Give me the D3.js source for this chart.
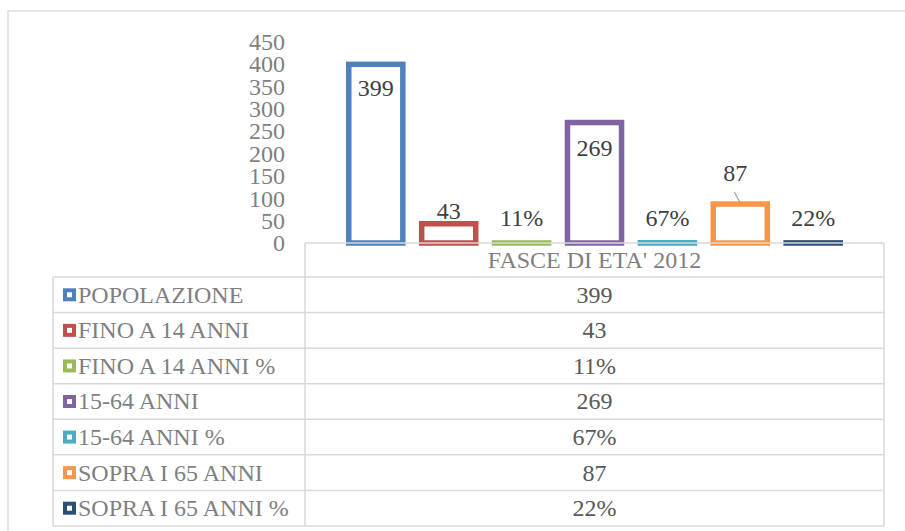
<!DOCTYPE html>
<html><head><meta charset="utf-8">
<script src="https://cdn.jsdelivr.net/npm/d3@7"></script>
<style>body{margin:0;background:#fff} svg{display:block} svg text{font-family:"Liberation Serif","Times New Roman",serif;}</style>
</head><body><svg id="c" width="905" height="531"></svg>
<script>
// ---- data ----
const categories = ["FASCE DI ETA' 2012"];
const seriesNames = ["POPOLAZIONE","FINO A 14 ANNI","FINO A 14 ANNI %","15-64 ANNI","15-64 ANNI %","SOPRA I 65 ANNI","SOPRA I 65 ANNI %"];
const seriesValues = [399, 43, 0.11, 269, 0.67, 87, 0.22];
const valueLabels = ["399","43","11%","269","67%","87","22%"];
const yTicks = [0,50,100,150,200,250,300,350,400,450];
const colors = ["#4f81bd","#c0504d","#9bbb59","#8064a2","#4bacc6","#f79646","#2c4d75"];

// ---- layout ----
const labelOffsets = [24, -13, -25, 26, -25, -31, -25];
const labelDx = [0, 0, 0, 0, 0, -5, 0];
const leader = [false,false,false,false,false,true,false];
const FS = 24;
const plotL = 305, plotR = 884, zeroY = 243, topY = 41.5;
const tableL = 53, rowTop = 277, tableBottom = 526;
const rowH = (tableBottom - rowTop) / seriesNames.length;
const lineCol = "#d9d9d9";
const sw = 5.5;

const svg = d3.select("#c");
svg.append("rect").attr("x",8).attr("y",11).attr("width",920).attr("height",540)
  .attr("fill","none").attr("stroke",lineCol).attr("stroke-width",1.3);

const y = d3.scaleLinear().domain([0,450]).range([zeroY, topY]);
const x0 = d3.scaleBand().domain(categories).range([plotL, plotR]);
const x = d3.scaleBand().domain(seriesNames)
  .range([346 - 6.65, 843 + 6.65]).paddingInner(0.183).paddingOuter(0.0915);

// y axis
const yAxis = d3.axisLeft(y).tickValues(yTicks).tickSize(0).tickPadding(0);
const ga = svg.append("g").attr("transform","translate(285,0)").call(yAxis);
ga.select(".domain").remove();
ga.attr("font-family",null).attr("font-size",null);
ga.selectAll("text").attr("font-size",FS).attr("fill","#7f7f7f").attr("dy","0.33em");

// bars
const data = seriesNames.map((s,i)=>({s, v:seriesValues[i], lab:valueLabels[i], c:colors[i], i}));
svg.append("g").selectAll("rect").data(data).join("rect")
  .attr("x", d=>x(d.s)+sw/2).attr("width", x.bandwidth()-sw)
  .attr("y", d=>y(d.v)).attr("height", d=>zeroY - y(d.v))
  .attr("fill","#fff").attr("stroke", d=>d.c).attr("stroke-width", sw);

// data labels
svg.append("g").selectAll("text").data(data).join("text")
  .attr("x", d=>x(d.s)+x.bandwidth()/2+labelDx[d.i])
  .attr("y", d=>y(d.v)+labelOffsets[d.i])
  .attr("dy","0.33em").attr("text-anchor","middle")
  .attr("font-size",FS).attr("fill","#404040")
  .text(d=>d.lab);
svg.append("g").selectAll("line").data(data.filter(d=>leader[d.i])).join("line")
  .attr("x1", d=>x(d.s)+x.bandwidth()/2-6).attr("y1", d=>y(d.v)-12)
  .attr("x2", d=>x(d.s)+x.bandwidth()/2).attr("y2", d=>y(d.v)-1)
  .attr("stroke","#a6a6a6").attr("stroke-width",1.3);

// table lines
const tl = svg.append("g").attr("stroke",lineCol).attr("stroke-width",1.5);
tl.append("line").attr("x1",plotL).attr("x2",plotR).attr("y1",zeroY).attr("y2",zeroY);
tl.append("line").attr("x1",plotL).attr("x2",plotL).attr("y1",zeroY).attr("y2",tableBottom);
tl.append("line").attr("x1",plotR).attr("x2",plotR).attr("y1",zeroY).attr("y2",tableBottom);
tl.append("line").attr("x1",tableL).attr("x2",tableL).attr("y1",rowTop).attr("y2",tableBottom);
tl.selectAll("line.h").data(d3.range(seriesNames.length+1)).join("line").attr("class","h")
  .attr("x1",tableL).attr("x2",plotR)
  .attr("y1",i=>rowTop+i*rowH).attr("y2",i=>rowTop+i*rowH);

// header
svg.append("text").attr("x", x0(categories[0])+x0.bandwidth()/2).attr("y",(zeroY+rowTop)/2)
  .attr("dy","0.33em").attr("text-anchor","middle")
  .attr("font-size",FS).attr("fill","#7f7f7f").text(categories[0]);

// rows
const rows = svg.append("g").selectAll("g").data(data).join("g")
  .attr("transform", d=>`translate(0,${rowTop + d.i*rowH + rowH/2})`);
rows.append("rect").attr("x",63+2).attr("y",-6.5+2).attr("width",9).attr("height",9)
  .attr("fill","#fff").attr("stroke",d=>d.c).attr("stroke-width",4);
rows.append("text").attr("x",78).attr("y",0).attr("dy","0.33em")
  .attr("font-size",FS).attr("fill","#7f7f7f").text(d=>d.s);
rows.append("text").attr("x", x0(categories[0])+x0.bandwidth()/2).attr("y",0).attr("dy","0.33em")
  .attr("text-anchor","middle")
  .attr("font-size",FS).attr("fill","#595959").text(d=>d.lab);
</script></body></html>
